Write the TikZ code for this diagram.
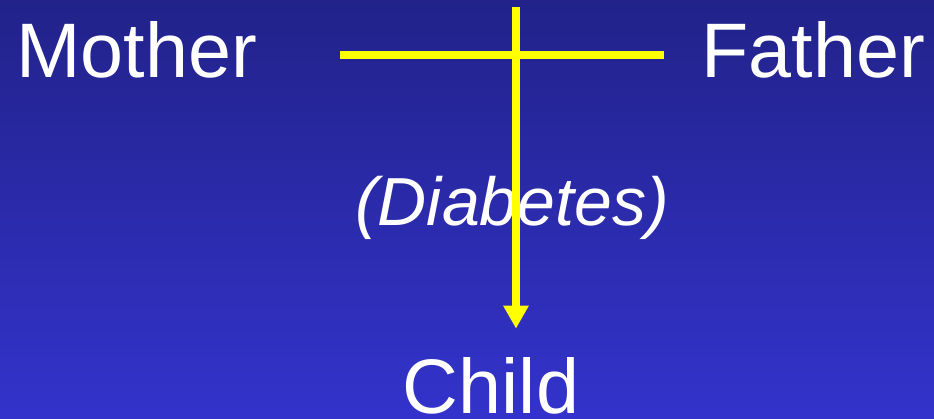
\documentclass[tikz,border=0pt]{standalone}
\usepackage{fontspec}
\setmainfont{Liberation Sans}
\usepackage{xcolor}
\usetikzlibrary{arrows.meta,positioning,calc}
\definecolor{slidetop}{RGB}{34,34,138}
\definecolor{slidebot}{RGB}{51,51,204}
\definecolor{bar}{RGB}{255,255,0}

\begin{document}
\begin{tikzpicture}[x=0.02cm,y=0.02cm,
  person/.style={inner sep=0pt,text=white,font=\fontsize{44pt}{48pt}\selectfont},
  trait/.style={inner sep=0pt,text=white,font=\fontsize{38.7pt}{42pt}\selectfont\itshape},
  mating/.style={draw=bar,line width=0.16cm},
  descent/.style={draw=bar,line width=0.16cm,shorten >=0.58cm,
                  -{Triangle[length=0.46cm,width=0.48cm]}}]
\shade[top color=slidetop,bottom color=slidebot] (0,0) rectangle (934,419);
\useasboundingbox (0,0) rectangle (934,419);
\node[person,anchor=base west] (mother) at (16,341) {Mother};
\node[person,anchor=base west] (father) at (701,341) {Father};
\node[trait,anchor=base]       (trait)  at (512,193) {(Diabetes)};
\node[person,anchor=base]      (child)  at (491,5)   {Child};
% free ends of the mating line and the top of the descent line
\coordinate (left)  at (340,364);
\coordinate (right) at (664,364);
\coordinate (top)   at (516,412);
\path[mating]  (left) -- (right);
\path[descent] (top) -- (top |- child.north);
\end{tikzpicture}
\end{document}
